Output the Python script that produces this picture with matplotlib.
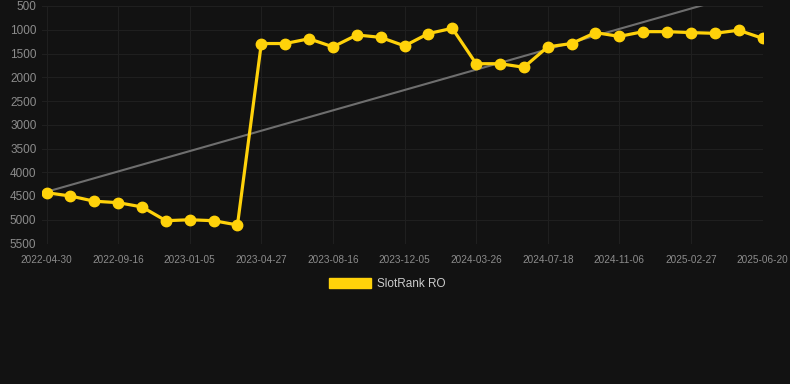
import numpy as np
import matplotlib
matplotlib.use("Agg")
import matplotlib.pyplot as plt
from matplotlib.patches import Patch

# tick labels (every 3rd point is labelled)
tick_dates = ["2022-04-30", "2022-09-16", "2023-01-05", "2023-04-27", "2023-08-16",
              "2023-12-05", "2024-03-26", "2024-07-18", "2024-11-06", "2025-02-27",
              "2025-06-20"]

# SlotRank RO position, one point per step
rank = [4430, 4500, 4610, 4640, 4730, 5020, 5000, 5020, 5110,
        1290, 1290, 1190, 1360, 1110, 1160, 1340, 1080, 970,
        1715, 1715, 1790, 1360, 1290, 1060, 1140, 1040, 1040,
        1060, 1075, 1010, 1180]

y_ticks = list(range(500, 5501, 500))

bg = "#121212"
gold = "#FFD20A"
grid_c = "#1f1f1f"
tick_c = "#8c8c8c"

plt.rcParams["font.family"] = ["Liberation Sans", "DejaVu Sans"]

fig = plt.figure(figsize=(7.9, 3.84), dpi=100, facecolor=bg)
ax = fig.add_axes([42 / 790, 1 - 243.5 / 384, 721 / 790, 237.5 / 384])
ax.set_facecolor(bg)

x = np.arange(len(rank))

# linear trend over the whole series
coef = np.polyfit(x, rank, 1)
ax.plot(x, np.polyval(coef, x), color="#6e6e6e", lw=1.5, zorder=2)

ax.plot(x, rank, color=gold, lw=2.3, marker="o", ms=7.5, zorder=3)

ax.set_xlim(-0.19, 30.02)
ax.set_ylim(5500, 500)
ax.set_yticks(y_ticks)
ax.set_xticks(np.arange(0, len(rank), 3))
ax.set_xticklabels(tick_dates)

ax.grid(True, color=grid_c, lw=0.8)
ax.set_axisbelow(True)
for s in ax.spines.values():
    s.set_visible(False)
ax.tick_params(axis="both", length=0, colors=tick_c)
ax.tick_params(axis="y", labelsize=8.5, pad=4)
ax.tick_params(axis="x", labelsize=7.2, pad=8)

fig.legend(handles=[Patch(facecolor=gold, edgecolor=gold, label="SlotRank RO")],
           loc="center", bbox_to_anchor=(0.49, 1 - 284 / 384), frameon=False,
           handlelength=3.6, handleheight=1.0, handletextpad=0.5,
           fontsize=8.5, labelcolor="#cccccc")

fig.savefig("out.png", dpi=100, facecolor=bg)
